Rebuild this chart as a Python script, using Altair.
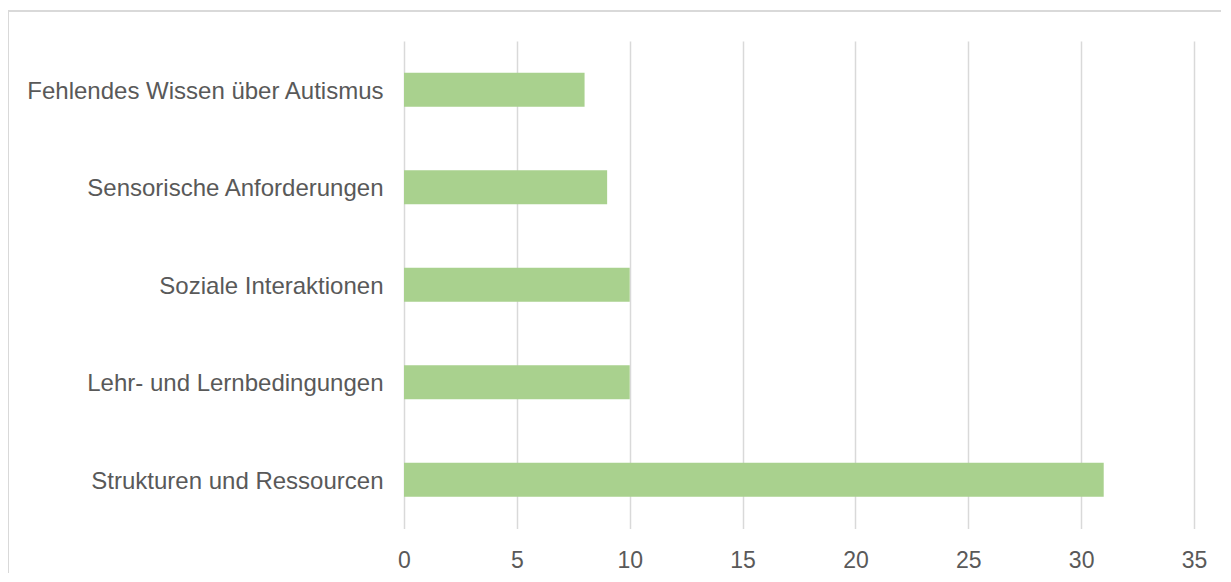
import altair as alt
import pandas as pd

categories = [
    "Fehlendes Wissen über Autismus",
    "Sensorische Anforderungen",
    "Soziale Interaktionen",
    "Lehr- und Lernbedingungen",
    "Strukturen und Ressourcen",
]
values = [8, 9, 10, 10, 31]
x_ticks = [0, 5, 10, 15, 20, 25, 30, 35]

df = pd.DataFrame({"Kategorie": categories, "Anzahl": values})

FONT = "Liberation Sans"
TEXT = "#595959"
GRID = "#d9d9d9"

bars = alt.Chart(df).mark_bar(color="#a9d18e").encode(
    x=alt.X(
        "Anzahl:Q",
        scale=alt.Scale(domain=[0, 35], nice=False),
        axis=alt.Axis(
            values=x_ticks,
            title=None,
            grid=True,
            gridColor=GRID,
            gridWidth=1.5,
            domain=False,
            ticks=False,
            tickSize=0,
            labelFlush=False,
            labelFont=FONT,
            labelFontSize=23,
            labelColor=TEXT,
            labelPadding=21,
        ),
    ),
    y=alt.Y(
        "Kategorie:N",
        sort=categories,
        scale=alt.Scale(paddingInner=0.65, paddingOuter=0.325),
        axis=alt.Axis(
            title=None,
            grid=False,
            domain=False,
            ticks=False,
            tickSize=0,
            labelFont=FONT,
            labelFontSize=24,
            labelColor=TEXT,
            labelPadding=21,
            labelOffset=2,
            labelLimit=500,
        ),
    ),
)

frame = alt.Chart(df).mark_rect(
    fill="transparent", stroke=GRID, strokeWidth=1.5
).encode(
    x=alt.value(-396),
    x2=alt.value(900),
    y=alt.value(-30),
    y2=alt.value(700),
)

chart = (
    alt.layer(frame, bars)
    .properties(
        width=790,
        height=487.5,
        background="white",
        autosize=alt.AutoSizeParams(type="none"),
        padding={"left": 396, "top": 33, "right": 27, "bottom": 44},
    )
    .configure_view(stroke=None, strokeWidth=0)
)

chart.save("out.html", embed_options={"renderer": "svg", "actions": False})
